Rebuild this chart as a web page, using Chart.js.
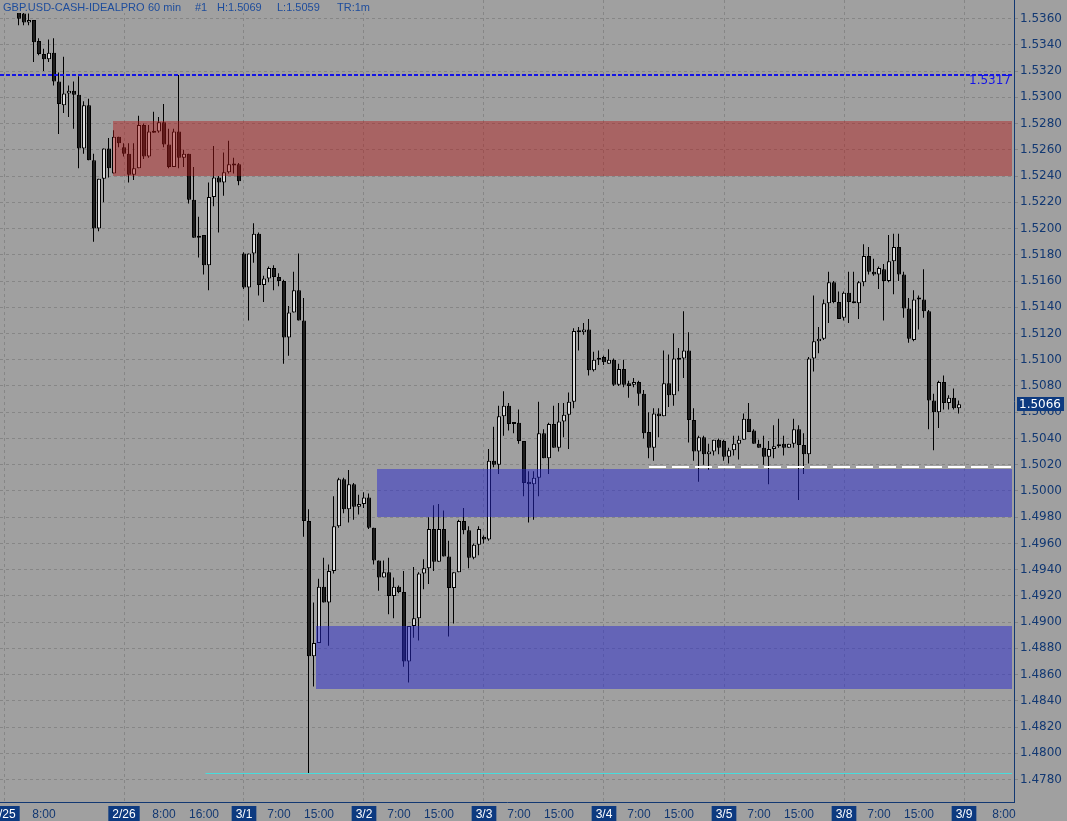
<!DOCTYPE html>
<html>
<head>
<meta charset="utf-8">
<title>GBP.USD 60 min</title>
<script src="https://cdn.jsdelivr.net/npm/chart.js@4.4.1/dist/chart.umd.min.js"></script>
<style>
  html, body { margin: 0; padding: 0; background: #a0a0a0; }
  canvas { display: block; }
</style>
</head>
<body>
<canvas id="priceChart" width="1067" height="821"></canvas>
<script>
// hourly bars, counted from 2/25 00:00 (weekend hours skipped)
const firstBar = 3;

const opens = [
  1.5367,1.5364,1.5357,1.5359,1.5343,1.5333,1.5329,1.5334,1.5312,1.5294,
  1.5303,1.5305,1.5302,1.5261,1.5294,1.5252,1.5200,1.5238,1.5261,1.5242,
  1.5270,1.5262,1.5257,1.5241,1.5246,1.5279,1.5255,1.5274,1.5274,1.5281,
  1.5264,1.5247,1.5274,1.5254,1.5257,1.5222,1.5194,1.5195,1.5172,1.5224,
  1.5239,1.5235,1.5243,1.5249,1.5249,1.5181,1.5155,1.5181,1.5196,1.5157,
  1.5162,1.5170,1.5163,1.5160,1.5117,1.5136,1.5153,1.5130,1.4977,1.4874,
  1.4884,1.4927,1.4915,1.4939,1.4973,1.5009,1.4986,1.5005,1.4988,1.4990,
  1.4995,1.4972,1.4947,1.4934,1.4938,1.4920,1.4927,1.4923,1.4870,1.4897,
  1.4903,1.4937,1.4941,1.4971,1.4946,1.4971,1.4950,1.4926,1.4938,1.4977,
  1.4970,1.4949,1.4959,1.4965,1.4963,1.5023,1.5020,1.5057,1.5065,1.5052,
  1.5052,1.5038,1.5007,1.5005,1.5010,1.5044,1.5025,1.5051,1.5033,1.5053,
  1.5058,1.5068,1.5122,1.5121,1.5123,1.5092,1.5100,1.5102,1.5097,1.5100,
  1.5081,1.5093,1.5082,1.5081,1.5083,1.5074,1.5045,1.5033,1.5059,1.5057,
  1.5082,1.5073,1.5101,1.5101,1.5107,1.5054,1.5030,1.5041,1.5028,1.5030,
  1.5039,1.5038,1.5026,1.5031,1.5036,1.5039,1.5055,1.5046,1.5036,1.5033,
  1.5026,1.5032,1.5034,1.5036,1.5033,1.5036,1.5047,1.5035,1.5028,1.5101,
  1.5114,1.5116,1.5143,1.5159,1.5144,1.5132,1.5151,1.5144,1.5143,1.5159,
  1.5179,1.5167,1.5165,1.5169,1.5160,1.5175,1.5186,1.5165,1.5139,1.5115,
  1.5147,1.5146,1.5137,1.5069,1.5060,1.5083,1.5067,1.5071,1.5063
];
const highs = [
  1.5367,1.5365,1.5364,1.5359,1.5345,1.5337,1.5344,1.5345,1.5319,1.5331,
  1.5309,1.5312,1.5316,1.5297,1.5299,1.5257,1.5238,1.5261,1.5269,1.5275,
  1.5270,1.5265,1.5265,1.5265,1.5286,1.5280,1.5279,1.5289,1.5285,1.5295,
  1.5276,1.5276,1.5317,1.5260,1.5257,1.5247,1.5209,1.5195,1.5235,1.5263,
  1.5240,1.5258,1.5267,1.5254,1.5250,1.5182,1.5181,1.5204,1.5197,1.5164,
  1.5171,1.5172,1.5166,1.5161,1.5141,1.5167,1.5181,1.5147,1.4986,1.4915,
  1.4933,1.4949,1.4944,1.4996,1.5010,1.5010,1.5016,1.5006,1.4997,1.4999,
  1.4998,1.4972,1.4947,1.4947,1.4949,1.4934,1.4928,1.4939,1.4897,1.4942,
  1.4938,1.4948,1.4980,1.4989,1.4990,1.4985,1.4962,1.4938,1.4978,1.4987,
  1.4973,1.4960,1.4973,1.4966,1.5032,1.5049,1.5065,1.5076,1.5067,1.5052,
  1.5062,1.5038,1.5015,1.5015,1.5068,1.5047,1.5052,1.5065,1.5067,1.5067,
  1.5075,1.5124,1.5125,1.5128,1.5131,1.5106,1.5107,1.5103,1.5108,1.5101,
  1.5097,1.5100,1.5084,1.5086,1.5084,1.5077,1.5060,1.5063,1.5063,1.5107,
  1.5104,1.5120,1.5109,1.5137,1.5121,1.5063,1.5042,1.5042,1.5036,1.5039,
  1.5040,1.5039,1.5033,1.5042,1.5042,1.5059,1.5067,1.5047,1.5039,1.5042,
  1.5038,1.5050,1.5055,1.5042,1.5036,1.5055,1.5050,1.5044,1.5102,1.5149,
  1.5125,1.5146,1.5167,1.5160,1.5152,1.5152,1.5167,1.5167,1.5160,1.5188,
  1.5186,1.5177,1.5171,1.5173,1.5195,1.5196,1.5196,1.5167,1.5147,1.5153,
  1.5149,1.5169,1.5138,1.5074,1.5084,1.5088,1.5073,1.5078,1.5069
];
const lows = [
  1.5355,1.5355,1.5355,1.5327,1.5332,1.5320,1.5327,1.5309,1.5272,1.5288,
  1.5285,1.5276,1.5246,1.5257,1.5252,1.5190,1.5198,1.5220,1.5239,1.5242,
  1.5262,1.5255,1.5235,1.5237,1.5246,1.5253,1.5254,1.5273,1.5273,1.5262,
  1.5246,1.5247,1.5246,1.5247,1.5219,1.5193,1.5178,1.5165,1.5153,1.5217,
  1.5197,1.5225,1.5242,1.5242,1.5233,1.5154,1.5130,1.5174,1.5149,1.5144,
  1.5159,1.5153,1.5156,1.5097,1.5103,1.5136,1.5130,1.4965,1.4785,1.4851,
  1.4884,1.4915,1.4882,1.4937,1.4972,1.4983,1.4976,1.4978,1.4982,1.4987,
  1.4971,1.4944,1.4924,1.4934,1.4906,1.4903,1.4922,1.4866,1.4854,1.4888,
  1.4886,1.4925,1.4929,1.4939,1.4946,1.4950,1.4889,1.4899,1.4938,1.4967,
  1.4941,1.4948,1.4951,1.4960,1.4962,1.5018,1.5013,1.5042,1.5046,1.5044,
  1.5036,1.4996,1.4976,1.4978,1.4996,1.5025,1.5013,1.5033,1.5030,1.5041,
  1.5032,1.5063,1.5107,1.5119,1.5088,1.5091,1.5096,1.5096,1.5097,1.5080,
  1.5080,1.5079,1.5071,1.5079,1.5065,1.5040,1.5025,1.5023,1.5041,1.5057,
  1.5064,1.5065,1.5076,1.5086,1.5037,1.5023,1.5007,1.5020,1.5016,1.5027,
  1.5028,1.5023,1.5021,1.5027,1.5024,1.5039,1.5045,1.5036,1.5033,1.5020,
  1.5005,1.5025,1.5033,1.5027,1.5033,1.5033,1.4993,1.5013,1.5021,1.5091,
  1.5105,1.5115,1.5128,1.5143,1.5131,1.5130,1.5128,1.5143,1.5131,1.5156,
  1.5165,1.5164,1.5154,1.5130,1.5159,1.5150,1.5160,1.5132,1.5113,1.5114,
  1.5123,1.5132,1.5047,1.5031,1.5048,1.5062,1.5062,1.5062,1.5059
];
const closes = [
  1.5360,1.5357,1.5359,1.5342,1.5333,1.5329,1.5334,1.5312,1.5295,1.5303,
  1.5305,1.5302,1.5261,1.5294,1.5252,1.5200,1.5238,1.5261,1.5246,1.5270,
  1.5265,1.5257,1.5241,1.5246,1.5279,1.5255,1.5274,1.5273,1.5281,1.5264,
  1.5247,1.5274,1.5254,1.5257,1.5222,1.5193,1.5193,1.5172,1.5224,1.5239,
  1.5235,1.5243,1.5249,1.5248,1.5236,1.5155,1.5181,1.5196,1.5157,1.5162,
  1.5170,1.5163,1.5160,1.5117,1.5136,1.5153,1.5130,1.4977,1.4874,1.4884,
  1.4927,1.4915,1.4939,1.4973,1.5009,1.4986,1.5005,1.4988,1.4990,1.4995,
  1.4972,1.4947,1.4934,1.4938,1.4920,1.4927,1.4923,1.4870,1.4897,1.4903,
  1.4937,1.4941,1.4971,1.4946,1.4971,1.4950,1.4926,1.4938,1.4977,1.4970,
  1.4949,1.4959,1.4971,1.4963,1.5023,1.5020,1.5057,1.5065,1.5051,1.5051,
  1.5038,1.5006,1.5005,1.5010,1.5044,1.5025,1.5051,1.5033,1.5053,1.5058,
  1.5068,1.5122,1.5121,1.5123,1.5092,1.5100,1.5100,1.5098,1.5100,1.5081,
  1.5093,1.5081,1.5080,1.5083,1.5074,1.5044,1.5033,1.5059,1.5057,1.5082,
  1.5073,1.5101,1.5100,1.5107,1.5054,1.5030,1.5041,1.5028,1.5030,1.5039,
  1.5033,1.5026,1.5031,1.5036,1.5039,1.5055,1.5045,1.5036,1.5033,1.5026,
  1.5032,1.5034,1.5035,1.5033,1.5036,1.5047,1.5035,1.5028,1.5101,1.5114,
  1.5116,1.5143,1.5159,1.5144,1.5131,1.5151,1.5144,1.5143,1.5159,1.5179,
  1.5167,1.5165,1.5170,1.5160,1.5175,1.5186,1.5165,1.5139,1.5116,1.5146,
  1.5146,1.5137,1.5069,1.5060,1.5083,1.5067,1.5071,1.5063,1.5066
];

// time axis labels (bar index -> text)
const tickHours = [0, 8, 24, 32, 40, 48, 55, 63, 72, 79, 87, 96, 103, 111,
                   120, 127, 135, 144, 151, 159, 168, 175, 183, 192, 200];
const tickLabels = ['2/25', '8:00', '2/26', '8:00', '16:00', '3/1', '7:00', '15:00',
                    '3/2', '7:00', '15:00', '3/3', '7:00', '15:00', '3/4', '7:00', '15:00',
                    '3/5', '7:00', '15:00', '3/8', '7:00', '15:00', '3/9', '8:00'];

const priceTicks = [1.4780, 1.4800, 1.4820, 1.4840, 1.4860, 1.4880, 1.4900, 1.4920,
                    1.4940, 1.4960, 1.4980, 1.5000, 1.5020, 1.5040, 1.5060, 1.5080,
                    1.5100, 1.5120, 1.5140, 1.5160, 1.5180, 1.5200, 1.5220, 1.5240,
                    1.5260, 1.5280, 1.5300, 1.5320, 1.5340, 1.5360];

// supply / demand zones
const zoneStart = [21.7, 74.7, 62.3];
const zoneTop = [1.5282, 1.5017, 1.4897];
const zoneBottom = [1.5240, 1.4980, 1.4849];

// horizontal levels
const levelPrices = [1.5317, 1.5018, 1.4785];
const levelStart = [-0.8, 129, 40.3];

const lastClose = 1.5066;

const NAVY = '#123872';
const GRID = '#868686';
const zoneColors = ['rgba(178,24,24,0.45)', 'rgba(40,40,205,0.5)', 'rgba(40,40,205,0.5)'];
const isDay = i => (tickLabels[i] || '').indexOf('/') >= 0;

const hours = opens.map((_, k) => firstBar + k);
const bodyData = hours.map((h, k) => ({ x: h, y: [opens[k], closes[k]] }));
const wickData = hours.map((h, k) => ({ x: h, y: [lows[k], highs[k]] }));
const bodyFill = hours.map((_, k) => closes[k] >= opens[k] ? '#dcdcdc' : '#1e1e1e');

const overlays = {
  id: 'overlays',
  afterDatasetsDraw(chart) {
    const { ctx, chartArea: a, scales: { x, y } } = chart;
    ctx.save();
    ctx.beginPath();
    ctx.rect(a.left, a.top, a.width, a.height);
    ctx.clip();

    // zones over the candles
    zoneStart.forEach((s, k) => {
      const left = Math.round(x.getPixelForValue(s));
      const top = Math.round(y.getPixelForValue(zoneTop[k]));
      const bot = Math.round(y.getPixelForValue(zoneBottom[k]));
      ctx.fillStyle = zoneColors[k];
      ctx.fillRect(left, top, a.right - 2 - left, bot - top);
    });

    // levels
    const styles = [
      { color: '#1414e6', width: 2, dash: [4, 2] },
      { color: '#ffffff', width: 2, dash: [17, 6] },
      { color: '#48dcdc', width: 1, dash: [] }
    ];
    levelPrices.forEach((p, k) => {
      const yy = Math.round(y.getPixelForValue(p)) + (styles[k].width === 1 ? 0.5 : 0);
      ctx.strokeStyle = styles[k].color;
      ctx.lineWidth = styles[k].width;
      ctx.setLineDash(styles[k].dash);
      ctx.beginPath();
      ctx.moveTo(x.getPixelForValue(levelStart[k]), yy);
      ctx.lineTo(a.right - 2, yy);
      ctx.stroke();
    });
    ctx.setLineDash([]);

    // level text
    ctx.fillStyle = '#1414e6';
    ctx.font = '12px "DejaVu Sans"';
    ctx.textAlign = 'right';
    ctx.textBaseline = 'middle';
    ctx.fillText(levelPrices[0].toFixed(4), a.right - 3, y.getPixelForValue(levelPrices[0]) + 6);
    ctx.restore();
  },
  afterDraw(chart) {
    const { ctx, chartArea: a, scales: { y } } = chart;
    ctx.save();
    // header strip
    ctx.fillStyle = '#a0a0a0';
    ctx.fillRect(0, 0, 372, 13);
    ctx.fillStyle = '#1d4c9c';
    ctx.font = '11px "Liberation Sans"';
    ctx.textBaseline = 'alphabetic';
    ctx.textAlign = 'left';
    const parts = ['GBP.USD-CASH-IDEALPRO', '60 min', '#1', 'H:1.5069', 'L:1.5059', 'TR:1m'];
    const px = [3, 148, 195, 217, 277, 337];
    parts.forEach((t, k) => ctx.fillText(t, px[k], 11));

    // last price marker on the axis
    const yy = Math.round(y.getPixelForValue(lastClose));
    ctx.fillStyle = '#0d3a80';
    ctx.fillRect(a.right + 3, yy - 7, 47, 14);
    ctx.fillStyle = '#ffffff';
    ctx.font = '12px "DejaVu Sans"';
    ctx.textBaseline = 'middle';
    ctx.fillText(lastClose.toFixed(4), a.right + 5, yy + 0.5);
    ctx.restore();
  }
};

new Chart(document.getElementById('priceChart'), {
  type: 'bar',
  data: {
    datasets: [
      {
        label: 'body',
        data: bodyData,
        backgroundColor: bodyFill,
        borderColor: '#000000',
        borderWidth: 1,
        borderSkipped: false,
        barThickness: 4,
        minBarLength: 2,
        inflateAmount: 0,
        grouped: false,
        xAxisID: 'x'
      },
      {
        label: 'wick',
        data: wickData,
        backgroundColor: '#000000',
        borderWidth: 0,
        barThickness: 1,
        inflateAmount: 0,
        grouped: false,
        xAxisID: 'x2'
      }
    ]
  },
  options: {
    responsive: false,
    animation: false,
    events: [],
    layout: { padding: 0 },
    plugins: {
      legend: { display: false },
      tooltip: { enabled: false }
    },
    scales: {
      x: {
        type: 'linear',
        min: -0.8,
        max: 202.0,
        offset: false,
        afterBuildTicks: s => { s.ticks = tickHours.map(v => ({ value: v })); },
        afterFit: s => { s.height = 19; s.paddingLeft = 0; s.paddingRight = 0; },
        ticks: {
          autoSkip: false,
          maxRotation: 0,
          minRotation: 0,
          padding: 5,
          font: { family: 'Liberation Sans', size: 12 },
          callback: (v, i) => tickLabels[i],
          color: c => isDay(c.index) ? '#ffffff' : NAVY,
          showLabelBackdrop: c => isDay(c.index),
          backdropColor: '#0d3a80',
          backdropPadding: { top: 1, bottom: 0, left: 4, right: 4 }
        },
        grid: {
          color: c => isDay(c.index) ? GRID : 'rgba(0,0,0,0)',
          drawTicks: false,
          offset: false,
          lineWidth: 1
        },
        border: { color: NAVY, width: 1, dash: [3, 3] }
      },
      // wick axis: same scale, half a pixel to the left
      x2: {
        type: 'linear',
        min: -0.7,
        max: 202.1,
        offset: false,
        display: false,
        grid: { display: false, offset: false }
      },
      y: {
        position: 'right',
        min: 1.47629,
        max: 1.53742,
        afterBuildTicks: s => { s.ticks = priceTicks.map(v => ({ value: v })); },
        afterFit: s => { s.width = 53; s.paddingTop = 0; s.paddingBottom = 0; },
        ticks: {
          color: NAVY,
          padding: 2,
          font: { family: 'DejaVu Sans', size: 12 },
          callback: v => v.toFixed(4)
        },
        grid: { color: GRID, tickLength: 4, lineWidth: 1 },
        border: { color: NAVY, width: 1, dash: [3, 3] }
      }
    }
  },
  plugins: [overlays]
});
</script>
</body>
</html>
